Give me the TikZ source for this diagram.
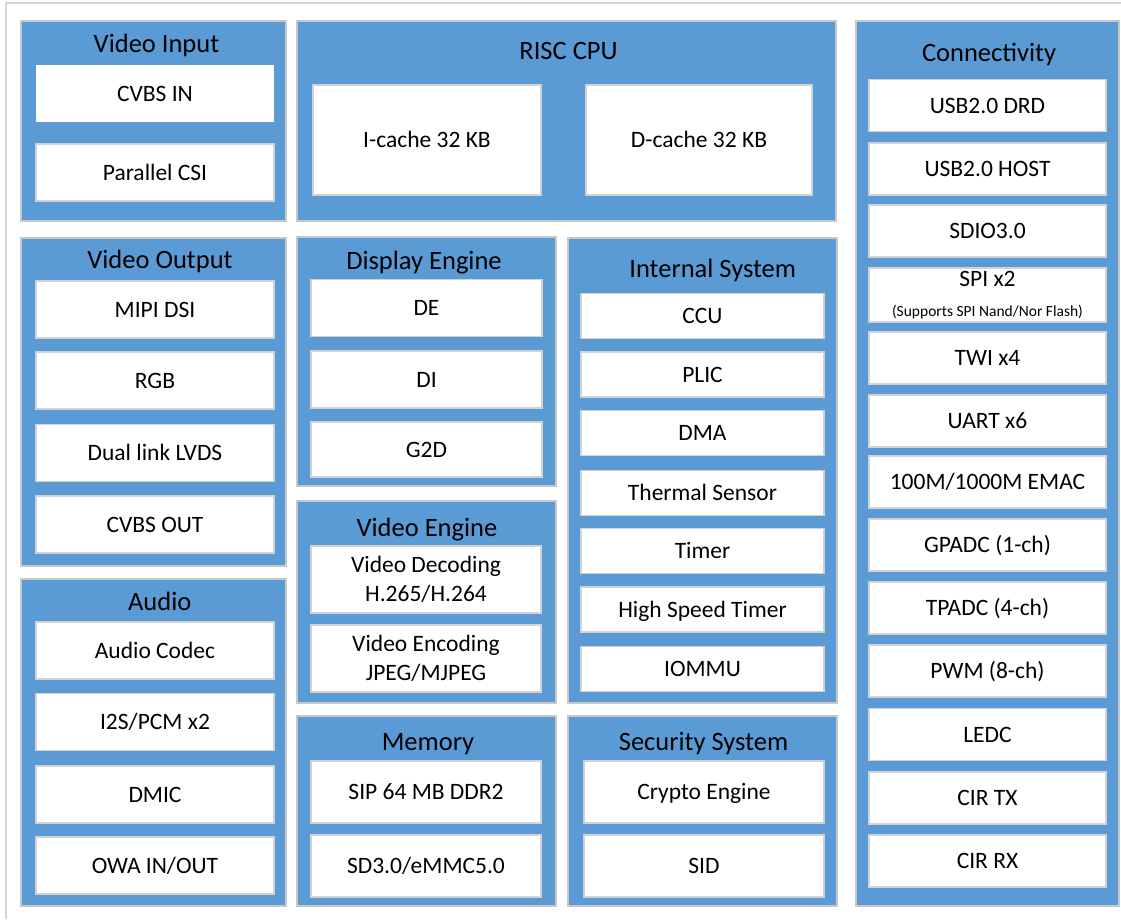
\documentclass[tikz,border=0pt]{standalone}
\usepackage{fontspec}
\setmainfont{Carlito}
\usepackage{xcolor}
\usepackage{tikz}
\usetikzlibrary{positioning}
\definecolor{blockblue}{HTML}{5B9BD5}
\definecolor{edgegray}{HTML}{C8C8C8}
\definecolor{boxgray}{HTML}{D2D2D2}
\definecolor{framegray}{HTML}{D4D4D4}

\begin{document}
\begin{tikzpicture}[x=1pt, y=-1pt,
	group/.style 2 args={draw=edgegray, line width=1.5pt, fill=blockblue, inner sep=0, minimum width=#1, minimum height=#2},
	item/.style 2 args={draw=boxgray, line width=1.5pt, fill=white, inner sep=0, minimum width=#1, minimum height=#2, align=center, font=\fontsize{23.5}{29}\selectfont, text height=15.1pt, text depth=0pt},
	title/.style={inner sep=0, font=\fontsize{26.5}{30}\selectfont, text height=17.1pt, text depth=0pt}]
	\useasboundingbox (0,0) rectangle (1121,919);
	\draw[framegray, line width=1.5pt] (6,919) -- (6,3) -- (1121,3);

	\node[group={265pt}{200pt}] (vidin) at (153.5,121) {};
	\node[title] (vidinT) at (156.5,44) {Video Input};
	\node[item={238pt}{57pt}, draw=none] (cvbsin) at (155,93.5) {CVBS IN};
	\node[item={238pt}{57pt}] (pcsi) at (155,172.5) {Parallel CSI};

	\node[group={539pt}{200pt}] (cpu) at (566.5,121) {};
	\node[title] (cpuT) at (568.5,51) {RISC CPU};
	\node[item={228pt}{110pt}] (icache) at (427,140) {I-cache 32 KB};
	\node[item={226pt}{110pt}] (dcache) at (699,140) {D-cache 32 KB};

	\node[group={263pt}{885pt}] (conn) at (987.5,463.5) {};
	\node[title] (connT) at (989,52.5) {Connectivity};
	\node[item={237pt}{52pt}] (usbdrd) at (987.5,105.5) {USB2.0 DRD};
	\node[item={237pt}{52pt}] (usbhost) at (987.5,169) {USB2.0 HOST};
	\node[item={237pt}{52pt}] (sdio) at (987.5,231) {SDIO3.0};
	\node[item={237pt}{54pt}, text height=, text depth=] (spi) at (987.5,295) {SPI x2\\[1pt]\fontsize{15.5}{18}\selectfont(Supports SPI Nand/Nor Flash)};
	\node[item={237pt}{52pt}] (twi) at (987.5,358) {TWI x4};
	\node[item={237pt}{52pt}] (uart) at (987.5,421) {UART x6};
	\node[item={237pt}{52pt}] (emac) at (987.5,482) {100M/1000M EMAC};
	\node[item={237pt}{52pt}] (gpadc) at (987.5,545) {GPADC (1-ch)};
	\node[item={237pt}{52pt}] (tpadc) at (987.5,608) {TPADC (4-ch)};
	\node[item={237pt}{52pt}] (pwm) at (987.5,671) {PWM (8-ch)};
	\node[item={237pt}{52pt}] (ledc) at (987.5,734.5) {LEDC};
	\node[item={237pt}{52pt}] (cirtx) at (987.5,798) {CIR TX};
	\node[item={237pt}{52pt}] (cirrx) at (987.5,861) {CIR RX};

	\node[group={265pt}{328pt}] (vidout) at (153.5,402) {};
	\node[title] (vidoutT) at (160,260.3) {Video Output};
	\node[item={238pt}{57pt}] (mipi) at (155,309.5) {MIPI DSI};
	\node[item={238pt}{57pt}] (rgb) at (155,380.5) {RGB};
	\node[item={238pt}{57pt}] (lvds) at (155,453) {Dual link LVDS};
	\node[item={238pt}{57pt}] (cvbsout) at (155,524.5) {CVBS OUT};

	\node[group={265pt}{327pt}] (audio) at (153.5,742.5) {};
	\node[title] (audioT) at (159.7,601.7) {Audio};
	\node[item={238pt}{57pt}] (codec) at (155,650.5) {Audio Codec};
	\node[item={238pt}{57pt}] (i2s) at (155,722) {I2S/PCM x2};
	\node[item={238pt}{57pt}] (dmic) at (155,794.5) {DMIC};
	\node[item={238pt}{57pt}] (owa) at (155,865.5) {OWA IN/OUT};

	\node[group={259pt}{249pt}] (disp) at (426.5,361.5) {};
	\node[title] (dispT) at (424,260.7) {Display Engine};
	\node[item={231pt}{57pt}] (de) at (426.5,308) {DE};
	\node[item={231pt}{57pt}] (di) at (426.5,379.5) {DI};
	\node[item={231pt}{55pt}] (gtwod) at (426.5,449.5) {G2D};

	\node[group={259pt}{202pt}] (veng) at (426.5,602) {};
	\node[title] (vengT) at (427,528) {Video Engine};
	\node[item={230pt}{67pt}, text height=, text depth=] (vdec) at (426,579.5) {Video Decoding\\H.265/H.264};
	\node[item={230pt}{67pt}, text height=, text depth=] (venc) at (426,658.5) {Video Encoding\\JPEG/MJPEG};

	\node[group={259pt}{190pt}] (mem) at (426.5,811) {};
	\node[title] (memT) at (428,741.7) {Memory};
	\node[item={230pt}{62pt}] (sip) at (426,792) {SIP 64 MB DDR2};
	\node[item={230pt}{62pt}] (sdmmc) at (426,866) {SD3.0/eMMC5.0};

	\node[group={269pt}{465pt}] (isys) at (702.5,470.5) {};
	\node[title] (isysT) at (712.7,268.7) {Internal System};
	\node[item={243pt}{45pt}] (ccu) at (702.5,316) {CCU};
	\node[item={243pt}{45pt}] (plic) at (702.5,374.5) {PLIC};
	\node[item={243pt}{45pt}] (dma) at (702.5,433) {DMA};
	\node[item={243pt}{45pt}] (thermal) at (702.5,493) {Thermal Sensor};
	\node[item={243pt}{45pt}] (timer) at (702.5,551) {Timer};
	\node[item={243pt}{45pt}] (hstimer) at (702.5,609.5) {High Speed Timer};
	\node[item={243pt}{45pt}] (iommu) at (702.5,669) {IOMMU};

	\node[group={269pt}{190pt}] (sec) at (702.5,811) {};
	\node[title] (secT) at (703.5,741.7) {Security System};
	\node[item={240pt}{62pt}] (crypto) at (704,792) {Crypto Engine};
	\node[item={240pt}{62pt}] (sid) at (704,866) {SID};
\end{tikzpicture}
\end{document}
